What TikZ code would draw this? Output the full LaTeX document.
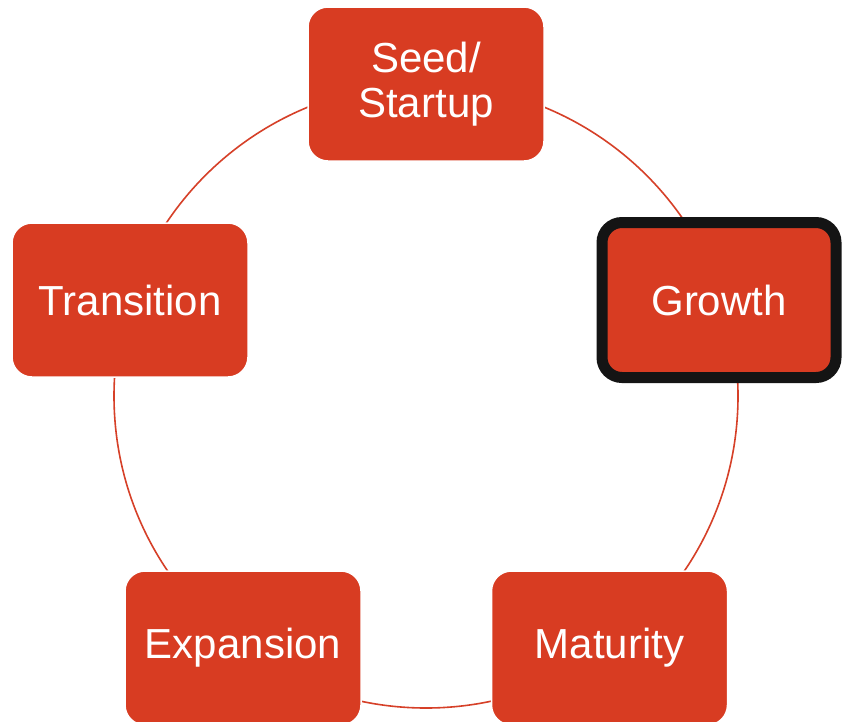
\documentclass[tikz,border=0pt]{standalone}
\usepackage{fontspec}
\setmainfont{Liberation Sans}
\definecolor{boxred}{RGB}{216,60,34}
\definecolor{ringred}{RGB}{214,64,40}
\definecolor{edgeblack}{RGB}{20,20,20}
\begin{document}
\begin{tikzpicture}[x=1pt,y=-1pt,
  stagebox/.style={rectangle, rounded corners=20pt, fill=boxred, draw=white, line width=1.5pt,
    minimum width=236pt, minimum height=154pt, text=white, align=center,
    font=\fontsize{42}{45}\selectfont, inner sep=0pt},
  ring/.style={draw=ringred, line width=1.6pt}]
\useasboundingbox (0,0) rectangle (842,721);
\fill[white] (0,0) rectangle (842,721);
\coordinate (c) at (426,396);
\draw[ring] (c) circle[radius=312pt];
\node[stagebox] (seed) at (426,84) {Seed/\\Startup};
\node[stagebox, draw=edgeblack, line width=11pt, minimum width=234pt, minimum height=155pt] (growth) at (719,300) {Growth};
\node[stagebox] (maturity) at (609.5,648) {Maturity};
\node[stagebox] (expansion) at (243,648) {Expansion};
\node[stagebox] (transition) at (130,300) {Transition};
\end{tikzpicture}
\end{document}
